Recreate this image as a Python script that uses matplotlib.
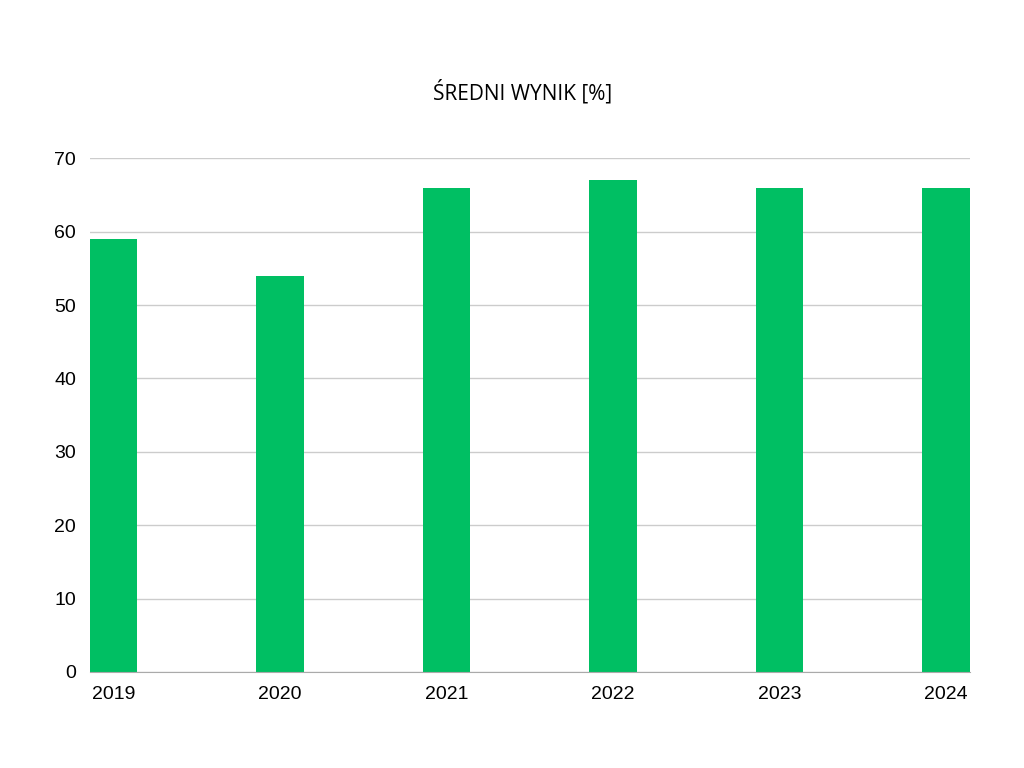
import matplotlib
matplotlib.use("Agg")
import matplotlib.pyplot as plt

years = ["2019", "2020", "2021", "2022", "2023", "2024"]
values = [59, 54, 66, 67, 66, 66]
yticks = [0, 10, 20, 30, 40, 50, 60, 70]

fig = plt.figure(figsize=(10.24, 7.68), dpi=100)
ax = fig.add_axes([0.0879, 0.125, 0.859, 0.669])
w = 0.285
x = list(range(len(years)))
ax.bar(x, values, width=w, align="edge", color="#00BF63", zorder=3)
ax.set_xlim(0, len(years) - 1 + w)
ax.set_ylim(0, 70)
ax.set_yticks(yticks)
ax.set_xticks([i + w / 2 for i in x])
ax.set_xticklabels(years, fontfamily="Liberation Sans", fontsize=14)
for lbl in ax.get_yticklabels():
    lbl.set_fontfamily("Liberation Sans"); lbl.set_fontsize(14)
ax.grid(axis="y", color="#cccccc", linewidth=1, zorder=0)
ax.tick_params(length=0, pad=10)
for s in ["top", "right", "left"]:
    ax.spines[s].set_visible(False)
ax.spines["bottom"].set_color("#aaaaaa")
ax.spines["bottom"].set_zorder(4)
fig.text(0.51, 0.88, "ŚREDNI WYNIK [%]", ha="center", va="center",
         fontsize=15, fontfamily="Open Sans", color="black")
fig.savefig("out.png", dpi=100)
